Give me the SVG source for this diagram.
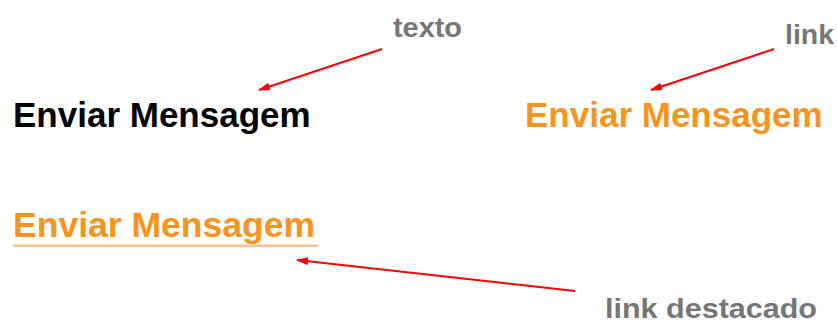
<svg xmlns="http://www.w3.org/2000/svg" width="837" height="324" viewBox="0 0 837 324">
  <style>
    .label { font-family: "Liberation Sans", Arial, sans-serif; font-weight: bold; }
    .main { font-size: 35px; }
    .note { fill: #767676; }
    .orange { fill: #f7941d; }
    .conn { stroke: #ff0000; stroke-width: 2; fill: none; marker-end: url(#head); }
  </style>
  <defs>
    <marker id="head" viewBox="0 0 12 8" refX="11" refY="4" markerWidth="12" markerHeight="8" markerUnits="userSpaceOnUse" orient="auto">
      <path d="M0,0 L12,4 L0,8 Z" fill="#ff0000"/>
    </marker>
  </defs>
  <rect width="837" height="324" fill="#ffffff"/>

  <!-- plain text sample -->
  <g id="texto-plain">
    <text class="label main" x="13" y="127" fill="#000000">Enviar Mensagem</text>
  </g>
  <!-- regular link sample -->
  <g id="link-normal">
    <text class="label main orange" x="525" y="127">Enviar Mensagem</text>
  </g>
  <!-- highlighted link sample with underline -->
  <g id="link-destacado">
    <text class="label main orange" x="13" y="237" textLength="302" lengthAdjust="spacingAndGlyphs">Enviar Mensagem</text>
    <rect x="13" y="244.5" width="305" height="2.5" fill="#fbc48a"/>
  </g>

  <!-- annotation labels -->
  <g id="note-texto">
    <text class="label note" x="393" y="37" font-size="28" textLength="69" lengthAdjust="spacingAndGlyphs">texto</text>
  </g>
  <g id="note-link">
    <text class="label note" x="785" y="44" font-size="28.5" textLength="49" lengthAdjust="spacingAndGlyphs">link</text>
  </g>
  <g id="note-destacado">
    <text class="label note" x="605" y="318" font-size="27" textLength="212" lengthAdjust="spacingAndGlyphs">link destacado</text>
  </g>

  <g id="connectors">
    <line class="conn" x1="382" y1="49" x2="259" y2="90"/>
    <line class="conn" x1="774" y1="49" x2="651" y2="90"/>
    <line class="conn" x1="575" y1="291" x2="297" y2="260"/>
  </g>
</svg>
